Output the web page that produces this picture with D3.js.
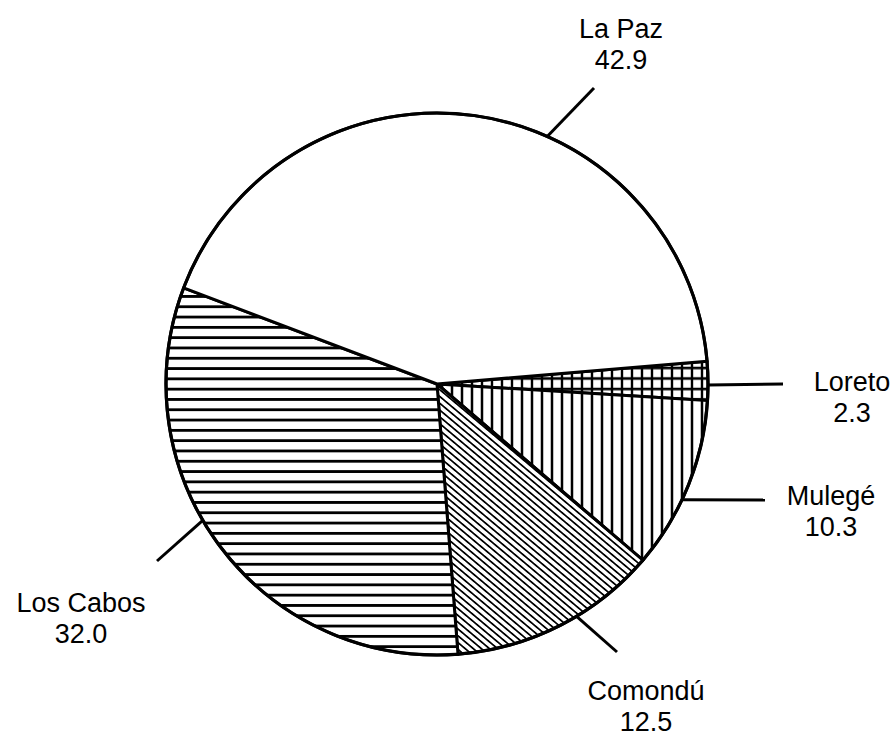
<!DOCTYPE html>
<html>
<head>
<meta charset="utf-8">
<script src="https://cdn.jsdelivr.net/npm/d3@7"></script>
<style>
  html, body { margin: 0; padding: 0; background: #fff; }
  svg { display: block; }
  text { font-family: "Liberation Sans", Arial, Helvetica, sans-serif; fill: #000; }
</style>
</head>
<body>
<svg id="chart" width="895" height="736"></svg>
<script>
// ---- data ----
const categories = ["Loreto", "Mulegé", "Comondú", "Los Cabos", "La Paz"];
const values = [2.3, 10.3, 12.5, 32.0, 42.9];
const valueLabels = ["2.3", "10.3", "12.5", "32.0", "42.9"];
const patterns = ["cross", "vert", "diag", "horiz", "none"];

// ---- layout (not data) ----
const cx = 437, cy = 384, R = 271;
const startDeg = 85.2;
// leader lines: angle on circle (deg, clockwise from 12 o'clock), outer end point; label anchor
const leaders = {
  "La Paz":   { ang: 24,    out: [594, 88],  lx: 621, ly: 38 },
  "Loreto":   { ang: 90.2,  out: [783, 384], lx: 852, ly: 391 },
  "Mulegé":   { ang: 115.3, out: [765, 500], lx: 831, ly: 505 },
  "Comondú":  { ang: 149,   out: [617, 652], lx: 646, ly: 700 },
  "Los Cabos":{ ang: 239.8, out: [157, 561], lx: 81,  ly: 612 }
};
const lineGap = 31;

const svg = d3.select("#chart");
const defs = svg.append("defs");

function linePattern(id, spacing, width, rotate) {
  const p = defs.append("pattern")
    .attr("id", id).attr("patternUnits", "userSpaceOnUse")
    .attr("width", 40).attr("height", spacing);
  if (rotate) p.attr("patternTransform", `rotate(${rotate})`);
  p.append("rect").attr("width", 40).attr("height", spacing).attr("fill", "#fff");
  p.append("line").attr("x1", 0).attr("x2", 40)
    .attr("y1", spacing / 2).attr("y2", spacing / 2)
    .attr("stroke", "#000").attr("stroke-width", width);
}
linePattern("horiz", 10.3, 2.6, 0);
linePattern("vert", 10, 2.4, 90);
linePattern("diag", 5.2, 1.8, 40);
// cross-hatch
(function () {
  const p = defs.append("pattern")
    .attr("id", "cross").attr("patternUnits", "userSpaceOnUse")
    .attr("width", 10).attr("height", 10.5);
  p.append("rect").attr("width", 10).attr("height", 10.5).attr("fill", "#fff");
  p.append("line").attr("x1", 0).attr("x2", 10).attr("y1", 5).attr("y2", 5)
    .attr("stroke", "#000").attr("stroke-width", 2.6);
  p.append("line").attr("x1", 5).attr("x2", 5).attr("y1", 0).attr("y2", 10.5)
    .attr("stroke", "#000").attr("stroke-width", 2.4);
})();

const data = categories.map((c, i) => ({ name: c, value: values[i], label: valueLabels[i], pat: patterns[i] }));

const pie = d3.pie().sort(null).value(d => d.value)
  .startAngle(startDeg * Math.PI / 180)
  .endAngle((startDeg + 360) * Math.PI / 180);
const arc = d3.arc().innerRadius(0).outerRadius(R);

const g = svg.append("g").attr("transform", `translate(${cx},${cy})`);

g.selectAll("path.slice").data(pie(data)).join("path")
  .attr("class", "slice")
  .attr("d", arc)
  .attr("fill", d => d.data.pat === "none" ? "#fff" : `url(#${d.data.pat})`)
  .attr("stroke", "#000")
  .attr("stroke-width", 3)
  .attr("stroke-linejoin", "round");

// outer circle
g.append("circle").attr("r", R).attr("fill", "none").attr("stroke", "#000").attr("stroke-width", 3.2);

// leader lines and labels
data.forEach(d => {
  const L = leaders[d.name];
  const a = L.ang * Math.PI / 180;
  const x1 = cx + R * Math.sin(a), y1 = cy - R * Math.cos(a);
  svg.append("line")
    .attr("x1", x1).attr("y1", y1).attr("x2", L.out[0]).attr("y2", L.out[1])
    .attr("stroke", "#000").attr("stroke-width", 3).attr("stroke-linecap", "butt");
  const t = svg.append("text").attr("text-anchor", "middle").attr("font-size", 27);
  t.append("tspan").attr("x", L.lx).attr("y", L.ly).text(d.name);
  t.append("tspan").attr("x", L.lx).attr("y", L.ly + lineGap).text(d.label);
});
</script>
</body>
</html>
